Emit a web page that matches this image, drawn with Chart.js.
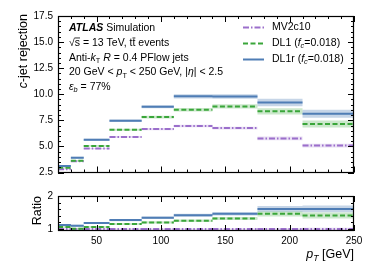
<!DOCTYPE html>
<html><head><meta charset="utf-8">
<script src="https://cdn.jsdelivr.net/npm/chart.js@4/dist/chart.umd.min.js"></script>
<style>
html,body{margin:0;padding:0;background:#fff;width:374px;height:280px;overflow:hidden}
canvas{position:absolute;left:0}
#c1{top:0}
#c2{top:185px}
</style></head><body>
<canvas id="c1" width="374" height="185"></canvas>
<canvas id="c2" width="374" height="95"></canvas>
<script>
// ---- data ----
const binEdges = [20, 30, 40, 60, 85, 110, 140, 175, 210, 250];
const dl1r   = [3.12, 3.92, 5.63, 7.45, 8.80, 9.80, 9.79, 9.21, 8.13];
const dl1    = [2.96, 3.63, 5.05, 6.59, 7.81, 8.51, 8.83, 8.37, 7.15];
const mv2c10 = [2.81, 3.58, 4.79, 5.91, 6.66, 6.95, 6.76, 5.77, 5.08];
const dl1rErr   = [0.08, 0.08, 0.10, 0.12, 0.15, 0.20, 0.22, 0.35, 0.38];
const dl1Err    = [0.07, 0.07, 0.09, 0.10, 0.13, 0.17, 0.20, 0.30, 0.33];
const mv2c10Err = [0.05, 0.05, 0.06, 0.08, 0.10, 0.12, 0.13, 0.17, 0.18];
const ratioDl1r   = [1.12, 1.10, 1.18, 1.27, 1.34, 1.42, 1.46, 1.61, 1.61];
const ratioDl1    = [1.06, 1.01, 1.06, 1.15, 1.20, 1.25, 1.32, 1.46, 1.41];
const ratioMv2c10 = [1.00, 1.00, 1.00, 1.00, 1.00, 1.00, 1.00, 1.00, 1.00];
const ratioDl1rErr   = [0.03, 0.03, 0.03, 0.035, 0.04, 0.045, 0.05, 0.09, 0.10];
const ratioDl1Err    = [0.03, 0.03, 0.03, 0.03, 0.035, 0.04, 0.045, 0.08, 0.09];
const ratioMv2c10Err = [0.02, 0.02, 0.02, 0.02, 0.02, 0.025, 0.025, 0.03, 0.035];
const xTicks = [50, 100, 150, 200, 250];
const yTicksMain = [2.5, 5.0, 7.5, 10.0, 12.5, 15.0, 17.5];
const yTicksRatio = [1, 2];

// ---- styles ----
const FAM = "'Liberation Sans', Arial, Helvetica, sans-serif";
const BLUE = '#4f7db5', GREEN = '#3aa63a', PURPLE = '#9b6fcb';
const BLUE_BAND = 'rgba(79,125,181,0.32)', GREEN_BAND = 'rgba(58,166,58,0.26)', PURPLE_BAND = 'rgba(155,111,203,0.22)';
const DASH_GREEN = [5, 2.5], DASH_PURPLE = [6, 2, 1.5, 2];

function segPoints(vals){
  const pts = [];
  vals.forEach((v,i)=>{ pts.push({x:binEdges[i],y:v},{x:binEdges[i+1],y:v},{x:binEdges[i+1],y:null}); });
  return pts;
}
function stepPoints(vals, errs, sign){
  const pts = [];
  vals.forEach((v,i)=>{ const y = v + sign*errs[i]; pts.push({x:binEdges[i],y:y},{x:binEdges[i+1],y:y}); });
  return pts;
}
function lineDs(vals, color, dash){
  return {data:segPoints(vals), borderColor:color, borderWidth:2, borderDash:dash, pointRadius:0, fill:false, spanGaps:false, tension:0};
}
function bandDs(vals, errs, color){
  return [
    {data:stepPoints(vals, errs, 1), borderWidth:0, borderColor:'rgba(0,0,0,0)', pointRadius:0, fill:false},
    {data:stepPoints(vals, errs, -1), borderWidth:0, borderColor:'rgba(0,0,0,0)', pointRadius:0, fill:'-1', backgroundColor:color}
  ];
}

function rich(ctx, segs, x, y, size, align){
  const font = s => (s.i?'italic ':'') + (s.b?'bold ':'') + (s.sub? size*0.7 : size) + 'px ' + FAM;
  let w = 0;
  segs.forEach(s=>{ ctx.font = font(s); s.w = ctx.measureText(s.t).width; w += s.w; });
  let cx = align==='right' ? x - w : x;
  segs.forEach(s=>{
    ctx.font = font(s);
    ctx.fillText(s.t, cx, y + (s.sub ? size*0.3 : 0));
    if (s.over){
      ctx.save(); ctx.strokeStyle = ctx.fillStyle; ctx.lineWidth = 0.8;
      ctx.beginPath(); ctx.moveTo(cx, y - size*0.48); ctx.lineTo(cx + s.w, y - size*0.48); ctx.stroke(); ctx.restore();
    }
    cx += s.w;
  });
  return w;
}

function drawFrame(chart, xMinor, yMinor, yMajors){
  const {ctx, chartArea:a, scales:{x, y}} = chart;
  ctx.save();
  ctx.strokeStyle = '#000'; ctx.lineWidth = 1;
  ctx.beginPath();
  const near = (v, arr) => arr.some(m => Math.abs(m - v) < 1e-6);
  for (let v = x.min; v <= x.max + 1e-6; v += xMinor){
    const p = Math.round(x.getPixelForValue(v)) + 0.5;
    const len = near(v, xTicks) ? 6 : 3;
    ctx.moveTo(p, a.bottom); ctx.lineTo(p, a.bottom - len);
    ctx.moveTo(p, a.top); ctx.lineTo(p, a.top + len);
  }
  const y0 = Math.ceil(y.min / yMinor - 1e-6) * yMinor;
  for (let v = y0; v <= y.max + 1e-6; v += yMinor){
    const p = Math.round(y.getPixelForValue(v)) + 0.5;
    const len = near(v, yMajors) ? 6 : 3;
    ctx.moveTo(a.left, p); ctx.lineTo(a.left + len, p);
    ctx.moveTo(a.right, p); ctx.lineTo(a.right - len, p);
  }
  ctx.stroke();
  ctx.lineWidth = 1.2;
  ctx.strokeRect(Math.round(a.left)+0.5, Math.round(a.top)+0.5, Math.round(a.right-a.left)-1, Math.round(a.bottom-a.top)-1);
  ctx.restore();
}

const mainPlugin = {
  id:'mainDeco',
  afterDraw(chart){
    drawFrame(chart, 10, 0.5, yTicksMain);
    const ctx = chart.ctx;
    ctx.save();
    ctx.fillStyle = '#000'; ctx.textBaseline = 'middle';
    const S = 10.5, X = 69;
    rich(ctx, [{t:'ATLAS', b:1, i:1}, {t:' Simulation'}], X, 28, S);
    rich(ctx, [{t:'√'}, {t:'s', i:0, over:1}, {t:' = 13 TeV, t'}, {t:'t', over:1}, {t:' events'}], X, 43, S);
    rich(ctx, [{t:'Anti-'}, {t:'k', i:1}, {t:'T', sub:1}, {t:' '}, {t:'R', i:1}, {t:' = 0.4 PFlow jets'}], X, 58, S);
    rich(ctx, [{t:'20 GeV < '}, {t:'p', i:1}, {t:'T', sub:1}, {t:' < 250 GeV, |'}, {t:'η', i:1}, {t:'| < 2.5'}], X, 72.5, S);
    rich(ctx, [{t:'ε', i:1}, {t:'b', i:1, sub:1}, {t:' = 77%'}], X, 87, S);
    // legend
    const legend = [
      {c:PURPLE, d:DASH_PURPLE, y:27, segs:[{t:'MV2c10'}]},
      {c:GREEN, d:DASH_GREEN, y:43, segs:[{t:'DL1 ('}, {t:'f', i:1}, {t:'c', i:1, sub:1}, {t:'=0.018)'}]},
      {c:BLUE, d:[], y:59, segs:[{t:'DL1r ('}, {t:'f', i:1}, {t:'c', i:1, sub:1}, {t:'=0.018)'}]}
    ];
    legend.forEach(l=>{
      ctx.save(); ctx.strokeStyle = l.c; ctx.lineWidth = 2; ctx.setLineDash(l.d);
      ctx.beginPath(); ctx.moveTo(243, l.y + 0.5); ctx.lineTo(264, l.y + 0.5); ctx.stroke(); ctx.restore();
      rich(ctx, l.segs, 272, l.y, S);
    });
    // y title
    ctx.save();
    ctx.translate(24, 14); ctx.rotate(-Math.PI/2);
    ctx.textBaseline = 'middle';
    rich(ctx, [{t:'c', i:1}, {t:'-jet rejection'}], 0, 0, 12.5, 'right');
    ctx.restore();
    ctx.restore();
  }
};

const ratioPlugin = {
  id:'ratioDeco',
  afterDraw(chart){
    drawFrame(chart, 10, 0.2, yTicksRatio);
    const ctx = chart.ctx;
    ctx.save();
    ctx.fillStyle = '#000'; ctx.textBaseline = 'middle';
    ctx.save();
    ctx.translate(38, 11); ctx.rotate(-Math.PI/2);
    rich(ctx, [{t:'Ratio'}], 0, 0, 12.5, 'right');
    ctx.restore();
    rich(ctx, [{t:'p', i:1}, {t:'T', i:1, sub:1}, {t:' [GeV]'}], 354, 70, 12.5, 'right');
    ctx.restore();
  }
};

const tickFont = {size:10, family:FAM};
Chart.defaults.font.family = FAM;

new Chart(document.getElementById('c1'), {
  type:'line',
  data:{datasets:[
    lineDs(dl1r, BLUE, []),
    lineDs(dl1, GREEN, DASH_GREEN),
    lineDs(mv2c10, PURPLE, DASH_PURPLE),
    ...bandDs(dl1r, dl1rErr, BLUE_BAND),
    ...bandDs(dl1, dl1Err, GREEN_BAND),
    ...bandDs(mv2c10, mv2c10Err, PURPLE_BAND)
  ]},
  options:{
    responsive:false, animation:false, devicePixelRatio:1,
    layout:{padding:{top:16, right:20, bottom:12.5, left:0}},
    plugins:{legend:{display:false}, tooltip:{enabled:false}, filler:{drawTime:'beforeDatasetsDraw'}},
    scales:{
      x:{type:'linear', min:20, max:250, display:false},
      y:{type:'linear', min:2.5, max:17.5,
         afterFit(s){ s.width = 58; },
         afterBuildTicks(s){ s.ticks = yTicksMain.map(v=>({value:v})); },
         grid:{display:false, drawTicks:false}, border:{display:false},
         ticks:{padding:5, color:'#000', font:tickFont, callback:v=>Number(v).toFixed(1)}}
    }
  },
  plugins:[mainPlugin]
});

new Chart(document.getElementById('c2'), {
  type:'line',
  data:{datasets:[
    lineDs(ratioDl1r, BLUE, []),
    lineDs(ratioDl1, GREEN, DASH_GREEN),
    lineDs(ratioMv2c10, PURPLE, DASH_PURPLE),
    ...bandDs(ratioDl1r, ratioDl1rErr, BLUE_BAND),
    ...bandDs(ratioDl1, ratioDl1Err, GREEN_BAND),
    ...bandDs(ratioMv2c10, ratioMv2c10Err, PURPLE_BAND)
  ]},
  options:{
    responsive:false, animation:false, devicePixelRatio:1,
    layout:{padding:{top:8.5, right:20, bottom:0, left:0}},
    plugins:{legend:{display:false}, tooltip:{enabled:false}, filler:{drawTime:'beforeDatasetsDraw'}},
    scales:{
      x:{type:'linear', min:20, max:250,
         afterFit(s){ s.height = 49; },
         afterBuildTicks(s){ s.ticks = xTicks.map(v=>({value:v})); },
         grid:{display:false, drawTicks:false}, border:{display:false},
         ticks:{padding:4, color:'#000', font:tickFont, maxRotation:0, autoSkip:false, callback:v=>String(v)}},
      y:{type:'linear', min:0.94, max:2.0,
         afterFit(s){ s.width = 58; },
         afterBuildTicks(s){ s.ticks = yTicksRatio.map(v=>({value:v})); },
         grid:{display:false, drawTicks:false}, border:{display:false},
         ticks:{padding:5, color:'#000', font:tickFont, callback:v=>String(v)}}
    }
  },
  plugins:[ratioPlugin]
});
</script>
</body></html>
